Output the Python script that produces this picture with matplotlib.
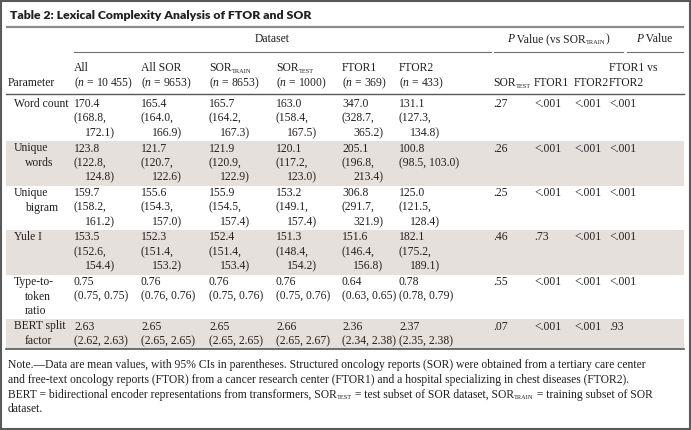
import matplotlib.pyplot as plt
from matplotlib.patches import Rectangle

# ================= data =================
col_names = [[("All", "")], [("All SOR", "")], [("SOR", ""), ("TRAIN", "sub")],
             [("SOR", ""), ("TEST", "sub")], [("FTOR1", "")], [("FTOR2", "")]]
col_n = ["10\u2009455", "9653", "8653", "1000", "369", "433"]
param_labels = [["Word count"], ["Unique", "words"], ["Unique", "bigram"], ["Yule I"],
                ["Type-to-", "token", "ratio"], ["BERT split", "factor"]]
decimals = [1, 1, 1, 1, 2, 2]

# (mean, CI low, CI high) per dataset column
word_count = [(170.4, 168.8, 172.1), (165.4, 164.0, 166.9), (165.7, 164.2, 167.3),
              (163.0, 158.4, 167.5), (347.0, 328.7, 365.2), (131.1, 127.3, 134.8)]
unique_words = [(123.8, 122.8, 124.8), (121.7, 120.7, 122.6), (121.9, 120.9, 122.9),
                (120.1, 117.2, 123.0), (205.1, 196.8, 213.4), (100.8, 98.5, 103.0)]
unique_bigram = [(159.7, 158.2, 161.2), (155.6, 154.3, 157.0), (155.9, 154.5, 157.4),
                 (153.2, 149.1, 157.4), (306.8, 291.7, 321.9), (125.0, 121.5, 128.4)]
yule_i = [(153.5, 152.6, 154.4), (152.3, 151.4, 153.2), (152.4, 151.4, 153.4),
          (151.3, 148.4, 154.2), (151.6, 146.4, 156.8), (182.1, 175.2, 189.1)]
type_token = [(0.75, 0.75, 0.75), (0.76, 0.76, 0.76), (0.76, 0.75, 0.76),
              (0.76, 0.75, 0.76), (0.64, 0.63, 0.65), (0.78, 0.78, 0.79)]
bert_split = [(2.63, 2.62, 2.63), (2.65, 2.65, 2.65), (2.65, 2.65, 2.65),
              (2.66, 2.65, 2.67), (2.36, 2.34, 2.38), (2.37, 2.35, 2.38)]
rows = [word_count, unique_words, unique_bigram, yule_i, type_token, bert_split]

p_names = [[("SOR", ""), ("TEST", "sub")], [("FTOR1", "")], [("FTOR2", "")]]
p_sor_test = [".27", ".26", ".25", ".46", ".55", ".07"]
p_ftor1 = ["<.001", "<.001", "<.001", ".73", "<.001", "<.001"]
p_ftor2 = ["<.001", "<.001", "<.001", "<.001", "<.001", "<.001"]
p_ftor1_vs_ftor2 = ["<.001", "<.001", "<.001", "<.001", "<.001", ".93"]

title = "Table 2: Lexical Complexity Analysis of FTOR and SOR"
note_lines = [
    [("Note.\u2014Data are mean values, with 95% CIs in parentheses. Structured oncology reports (SOR) were obtained from a tertiary care center", "")],
    [("and free-text oncology reports (FTOR) from a cancer research center (FTOR1) and a hospital specializing in chest diseases (FTOR2).", "")],
    [("BERT = bidirectional encoder representations from transformers, SOR", ""), ("TEST", "sub"),
     (" = test subset of SOR dataset, SOR", ""), ("TRAIN", "sub"), (" = training subset of SOR", "")],
    [("dataset.", "")],
]

# ================= style =================
TXT = "#231f20"
SHADE = "#e6e0dc"
FS = 8.4
plt.rcParams['font.family'] = ['Liberation Serif', 'DejaVu Serif']
plt.rcParams['mathtext.fontset'] = 'custom'
plt.rcParams['mathtext.rm'] = 'Liberation Serif'
plt.rcParams['mathtext.it'] = 'Liberation Serif:italic'

col_x = [74, 141, 209, 276, 342, 399]
p_x = [493, 534, 574, 609]
label_x = 14
indent = 11
pitch = 14.6

fig = plt.figure(figsize=(6.91, 4.30), dpi=100)
ax = fig.add_axes([0, 0, 1, 1])
ax.set_xlim(0, 691)
ax.set_ylim(430, 0)
ax.axis('off')
renderer = fig.canvas.get_renderer()


def txt(x, y, s, **kw):
    kw.setdefault('ha', 'left')
    ax.text(x, y, s, fontsize=FS, color=TXT, va='baseline', **kw)


def rich(x, y, parts, ha='left', size=FS):
    # draw text pieces one after another; 'sub' pieces small and lowered
    objs = []
    cx = x
    for s, kind in parts:
        if kind == 'sub':
            t = ax.text(cx, y + 1.8, s, fontsize=size * 0.55, color=TXT, va='baseline')
        else:
            t = ax.text(cx, y, s, fontsize=size, color=TXT, va='baseline',
                        style='italic' if kind == 'it' else 'normal')
        cx += t.get_window_extent(renderer).width
        objs.append(t)
    if ha == 'center':
        shift = (cx - x) / 2
        for t in objs:
            t.set_x(t.get_position()[0] - shift)


# frame and title
ax.add_patch(Rectangle((1, 1), 689, 428, fill=False, ec='#58595b', lw=1.5))
ax.text(10, 19, title, fontsize=8.8, fontweight='heavy', family='Lato', color=TXT, va='baseline')
ax.plot([6, 684], [27, 27], color='#8c8c8c', lw=1.6, solid_capstyle='butt')

# spanning headers
txt(272, 42, "Dataset", ha='center')
ax.plot([74, 491], [52, 52], color='#6d6e71', lw=0.8)
rich(558, 42, [("P", "it"), (" Value (vs SOR", ""), ("TRAIN", "sub"), (")", "")], ha='center')
ax.plot([494, 623], [52, 52], color='#6d6e71', lw=0.8)
rich(654, 42, [("P", "it"), (" Value", "")], ha='center')
ax.plot([627, 683], [52, 52], color='#6d6e71', lw=0.8)

# column headers
txt(8, 86, "Parameter")
for x, name, n in zip(col_x, col_names, col_n):
    rich(x, 71, name)
    txt(x, 86, "($n$ = " + n + ")")
for x, name in zip(p_x, p_names):
    rich(x, 86, name)
txt(p_x[3], 71, "FTOR1 vs")
txt(p_x[3], 86, "FTOR2")
ax.plot([6, 684], [94, 94], color='#58595b', lw=1.0)

# body rows
top = 96.5
pvals = [p_sor_test, p_ftor1, p_ftor2, p_ftor1_vs_ftor2]
for i, (label, vals, dec) in enumerate(zip(param_labels, rows, decimals)):
    nlines = 2 if i == len(rows) - 1 else 3
    h = nlines * pitch + 0.7
    if i % 2 == 1:
        ax.add_patch(Rectangle((6, top), 678, h, color=SHADE, lw=0, zorder=0))
    base = top + 10.5
    for k, line in enumerate(label):
        txt(label_x + (indent if k else 0), base + k * pitch, line)
    for x, (m, lo, hi) in zip(col_x, vals):
        txt(x, base, f"{m:.{dec}f}")
        ci = f"({lo:.{dec}f}, {hi:.{dec}f})"
        if len(ci) > 13:
            txt(x, base + pitch, f"({lo:.{dec}f},")
            txt(x + indent, base + 2 * pitch, f"{hi:.{dec}f})")
        else:
            txt(x, base + pitch, ci)
    for x, pv in zip(p_x, pvals):
        txt(x, base, pv[i])
    top += h

ax.plot([6, 684], [top, top], color='#58595b', lw=1.2)

# note
for k, parts in enumerate(note_lines):
    rich(8, top + 19.5 + k * 14.6, parts)

fig.savefig("out.png", dpi=100)
